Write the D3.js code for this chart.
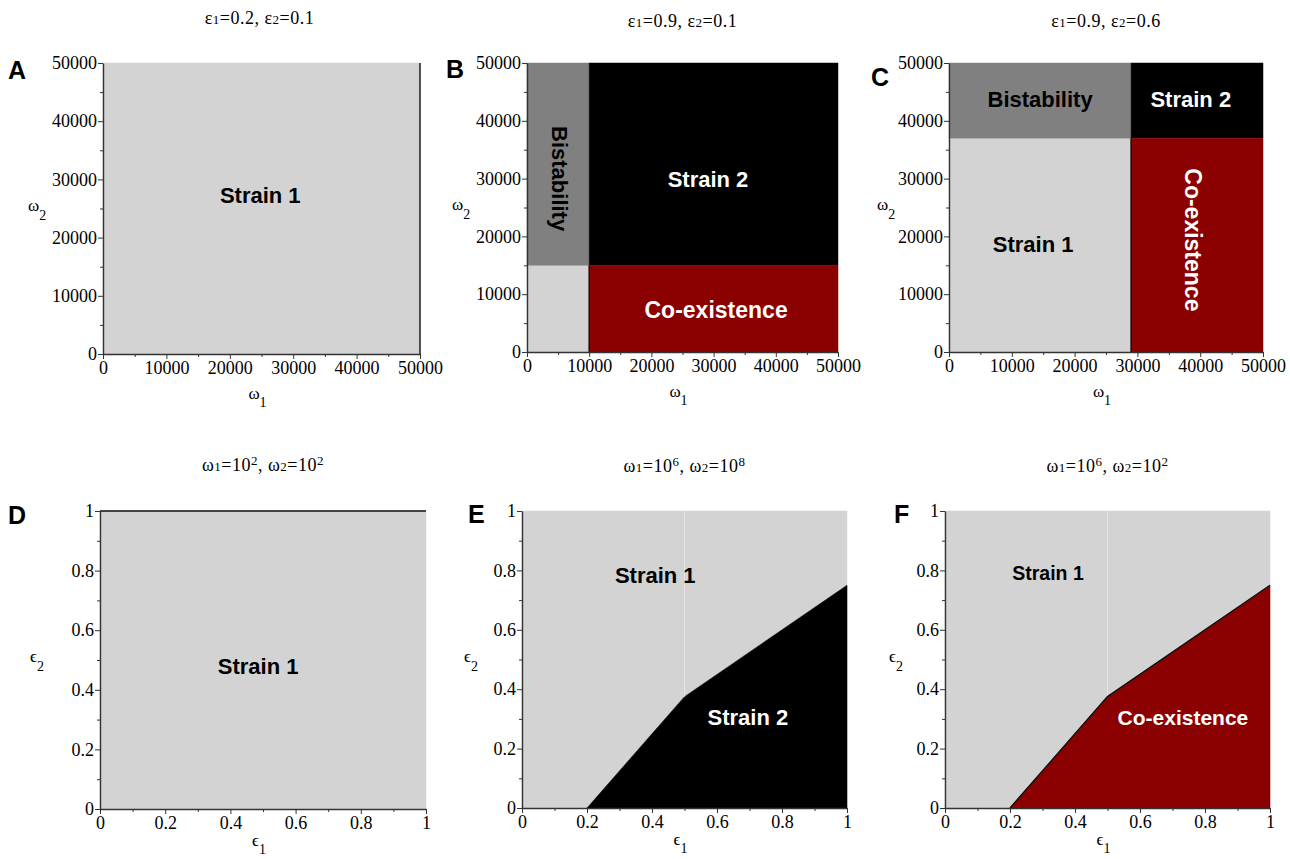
<!DOCTYPE html>
<html>
<head>
<meta charset="utf-8">
<script src="https://cdn.jsdelivr.net/npm/d3@7"></script>
<style>
  body { margin: 0; background: #fff; }
</style>
</head>
<body>
<svg id="chart" width="1290" height="859"></svg>
<script>
"use strict";

// ---- data ----
const omegaTicks = [0, 10000, 20000, 30000, 40000, 50000];
const epsTicks = [0, 0.2, 0.4, 0.6, 0.8, 1];
const panelLetters = ["A", "B", "C", "D", "E", "F"];
const panelTitles = [
    "ε_1=0.2, ε_2=0.1", "ε_1=0.9, ε_2=0.1", "ε_1=0.9, ε_2=0.6",
    "ω_1=10^2, ω_2=10^2", "ω_1=10^6, ω_2=10^8", "ω_1=10^6, ω_2=10^2"
];

// omega-plane regions: [w1 from, w1 to, w2 from, w2 to, outcome]
const regionsA = [[0, 50000, 0, 50000, "s1"]];
const regionsB = [
    [0, 10000, 0, 15000, "s1"], [0, 10000, 15000, 50000, "bi"],
    [10000, 50000, 15000, 50000, "s2"], [10000, 50000, 0, 15000, "co"]
];
const regionsC = [
    [0, 29000, 0, 37000, "s1"], [0, 29000, 37000, 50000, "bi"],
    [29000, 50000, 37000, 50000, "s2"], [29000, 50000, 0, 37000, "co"]
];
const regionsD = [[0, 1, 0, 1, "s1"]];

// epsilon-plane boundaries (e1, e2)
const boundaryE = [[0.2, 0], [0.5, 0.375], [1, 0.75]];
const boundaryF = [[0.2, 0], [0.5, 0.375], [1, 0.75]];

// region labels: [text, x, y, outcome, rotated, size]
const labelsA = [["Strain 1", 24800, 27300, "s1"]];
const labelsB = [
    ["Strain 2", 29100, 30000, "s2"], ["Co-existence", 30400, 7300, "co", false, 23],
    ["Bistability", 5300, 30000, "bi", true]
];
const labelsC = [
    ["Bistability", 14500, 43800, "bi"], ["Strain 2", 38500, 43800, "s2"],
    ["Strain 1", 13400, 18700, "s1"], ["Co-existence", 38900, 19400, "co", true, 23]
];
const labelsD = [["Strain 1", 0.485, 0.48, "s1"]];
const labelsE = [["Strain 1", 0.41, 0.785, "s1"], ["Strain 2", 0.695, 0.306, "s2"]];
const labelsF = [["Strain 1", 0.317, 0.79, "s1", false, 19.5], ["Co-existence", 0.732, 0.306, "co", false, 21]];

const fills = { s1: "#d3d3d3", bi: "#808080", s2: "#000000", co: "#8b0000" };
const inks = { s1: "#000", bi: "#000", s2: "#fff", co: "#fff" };

// ---- layout ----
const rectPoly = r => [[r[0], r[2]], [r[1], r[2]], [r[1], r[3]], [r[0], r[3]]];
const wedge = b => b.concat([[1, 0]]);

const panels = [
    { left: 103, top: 63, w: 317, h: 291, omega: true, titleY: 24, titleDx: -2, letterX: 8, letterY: 79, yOff: 75,
      polys: regionsA.map(r => ({ pts: rectPoly(r), k: r[4] })), labels: labelsA,
      lines: [[[50000, 0], [50000, 50000]]] },
    { left: 527, top: 63, w: 311, h: 289, omega: true, titleY: 27, titleDx: 0, letterX: 446, letterY: 78, yOff: 75,
      polys: regionsB.map(r => ({ pts: rectPoly(r), k: r[4] })), labels: labelsB,
      lines: [[[10000, 0], [10000, 15000]]] },
    { left: 949, top: 63, w: 314, h: 289, omega: true, titleY: 27, titleDx: 0, letterX: 871, letterY: 86, yOff: 72,
      polys: regionsC.map(r => ({ pts: rectPoly(r), k: r[4] })), labels: labelsC,
      lines: [[[29000, 0], [29000, 37000]]] },
    { left: 100, top: 511, w: 326, h: 298, omega: false, titleY: 471, titleDx: 0, letterX: 8, letterY: 524, yOff: 70,
      polys: regionsD.map(r => ({ pts: rectPoly(r), k: r[4] })), labels: labelsD,
      lines: [[[0, 1], [1, 1]]] },
    { left: 522, top: 511, w: 325, h: 297, omega: false, titleY: 472, titleDx: 0, letterX: 468, letterY: 523, yOff: 58,
      polys: [{ pts: rectPoly([0, 1, 0, 1]), k: "s1" }, { pts: wedge(boundaryE), k: "s2" }],
      labels: labelsE, faint: [[0.5, 0.375], [0.5, 1]], lines: [] },
    { left: 945, top: 511, w: 325, h: 297, omega: false, titleY: 472, titleDx: 0, letterX: 894, letterY: 523, yOff: 56,
      polys: [{ pts: rectPoly([0, 1, 0, 1]), k: "s1" }, { pts: wedge(boundaryF), k: "co" }],
      labels: labelsF, faint: [[0.5, 0.375], [0.5, 1]], lines: [boundaryF] }
];

const serif = "'Liberation Serif', 'Times New Roman', serif";
const sans = "'Liberation Sans', Arial, Helvetica, sans-serif";

const svg = d3.select("#chart");
svg.append("rect").attr("width", 1290).attr("height", 859).attr("fill", "#fff");

// text with _sub and ^sup markers; each piece gets an absolute baseline
function richText(sel, str, size, subSize, subDy, supDy) {
    const parts = str.split(/([_^].)/).filter(s => s.length);
    let shift = 0;
    parts.forEach(s => {
        if (s[0] === "_" || s[0] === "^") {
            const dy = s[0] === "_" ? subDy : supDy;
            sel.append("tspan").attr("font-size", subSize).attr("dy", dy - shift).text(s[1]);
            shift = dy;
        } else {
            sel.append("tspan").attr("font-size", size).attr("dy", -shift).text(s);
            shift = 0;
        }
    });
}

function styleAxis(a) {
    a.attr("font-family", serif).attr("font-size", 18);
    a.selectAll(".tick text").attr("font-family", serif).attr("font-size", 18).attr("fill", "#000");
    a.selectAll(".tick line").attr("stroke", "#333");
    a.select(".domain").attr("stroke", "#333").attr("stroke-width", 1.4);
}

panels.forEach((p, i) => {
    const dom = p.omega ? [0, 50000] : [0, 1];
    const ticks = p.omega ? omegaTicks : epsTicks;
    const minor = ticks.slice(1).map((t, j) => (t + ticks[j]) / 2);
    const x = d3.scaleLinear().domain(dom).range([0, p.w]);
    const y = d3.scaleLinear().domain(dom).range([p.h, 0]);
    const line = d3.line().x(d => x(d[0])).y(d => y(d[1]));

    const g = svg.append("g").attr("transform", `translate(${p.left},${p.top})`);

    p.polys.forEach(poly => {
        g.append("path").attr("d", line(poly.pts) + "Z")
            .attr("fill", fills[poly.k]).attr("stroke", fills[poly.k]).attr("stroke-width", 0.5);
    });
    if (p.faint) {
        g.append("path").attr("d", line(p.faint)).attr("stroke", "#e4e4e4").attr("stroke-width", 1).attr("fill", "none");
    }
    p.lines.forEach(l => {
        g.append("path").attr("d", line(l)).attr("stroke", "#111").attr("stroke-width", 1.4).attr("fill", "none");
    });

    // axes
    const fmt = d => String(d);
    const xAxis = g.append("g").attr("transform", `translate(0,${p.h})`)
        .call(d3.axisBottom(x).tickValues(ticks).tickFormat(fmt).tickSize(5).tickSizeOuter(0).tickPadding(2));
    styleAxis(xAxis);
    xAxis.selectAll(".tick text").attr("dy", "0.72em");
    const xMinor = g.append("g").attr("transform", `translate(0,${p.h})`)
        .call(d3.axisBottom(x).tickValues(minor).tickFormat("").tickSize(3).tickSizeOuter(0));
    xMinor.select(".domain").remove();
    xMinor.selectAll(".tick text").remove();
    styleAxis(xMinor);
    const yAxis = g.append("g")
        .call(d3.axisLeft(y).tickValues(ticks).tickFormat(fmt).tickSize(5).tickSizeOuter(0).tickPadding(1));
    styleAxis(yAxis);
    const yMinor = g.append("g")
        .call(d3.axisLeft(y).tickValues(minor).tickFormat("").tickSize(3).tickSizeOuter(0));
    yMinor.select(".domain").remove();
    yMinor.selectAll(".tick text").remove();
    styleAxis(yMinor);

    // region labels
    p.labels.forEach(l => {
        g.append("text")
            .attr("transform", `translate(${x(l[1])},${y(l[2])})` + (l[4] ? " rotate(90)" : ""))
            .attr("text-anchor", "middle").attr("dy", "0.36em")
            .attr("font-family", sans)
            .attr("font-weight", "bold").attr("font-size", l[5] || 22)
            .attr("fill", inks[l[3]]).text(l[0]);
    });

    // axis titles
    const sym = p.omega ? "ω" : "ϵ";
    const xl = svg.append("text").attr("x", p.left + p.w / 2 - 4).attr("y", p.top + p.h + (p.omega ? 45 : 37))
        .attr("text-anchor", "middle").attr("font-family", serif).attr("font-size", 17);
    richText(xl, sym + "_1", 17, 14, 8, 0);
    const yl = svg.append("text").attr("x", p.left - p.yOff).attr("y", p.top + p.h / 2 + 2)
        .attr("text-anchor", "start").attr("font-family", serif).attr("font-size", 17);
    richText(yl, sym + "_2", 17, 14, 9, 0);

    // panel title
    const tt = svg.append("text").attr("x", p.left + p.w / 2 + p.titleDx).attr("y", p.titleY)
        .attr("text-anchor", "middle").attr("font-family", serif).attr("font-size", 18)
        .attr("letter-spacing", 0.5);
    richText(tt, panelTitles[i], 18, 13, 0, -6);

    // panel letter
    svg.append("text").attr("x", p.letterX).attr("y", p.letterY)
        .attr("font-family", sans).attr("font-weight", "bold")
        .attr("font-size", 25).text(panelLetters[i]);
});
</script>
</body>
</html>
